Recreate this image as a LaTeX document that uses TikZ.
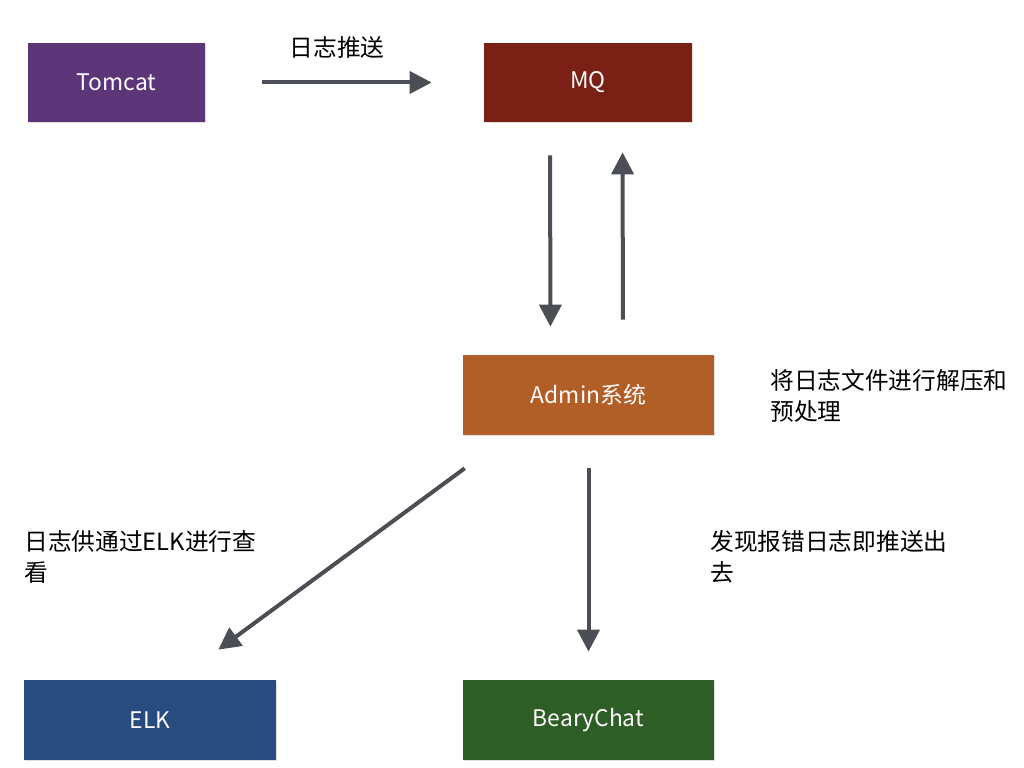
\documentclass[tikz,border=0pt]{standalone}
\usepackage{fontspec}
\setmainfont{Noto Sans CJK SC}
\usepackage{tikz}
\usetikzlibrary{arrows.meta,shadows}

\definecolor{arrowgray}{HTML}{4B4E54}
\definecolor{tomcatc}{HTML}{5B3577}
\definecolor{mqc}{HTML}{7A2014}
\definecolor{adminc}{HTML}{B25E27}
\definecolor{elkc}{HTML}{284C80}
\definecolor{bearyc}{HTML}{2C5E25}

\tikzset{
    box/.style={minimum height=1.58cm, inner sep=0pt, text=white!95!pink,
        font=\fontsize{13}{15}\selectfont,
        drop shadow={opacity=0.25, shadow xshift=0.6pt, shadow yshift=-0.6pt}},
    note/.style={anchor=north west, inner sep=0pt, align=left,
        font=\fontsize{13.5}{17.5}\selectfont},
    flow/.style={-{Triangle[length=0.44cm,width=0.44cm]}, arrowgray, line width=0.08cm},
}

\begin{document}
\begin{tikzpicture}
            \useasboundingbox (0,0) rectangle (20.48,-15.36);

            \node [box, fill=tomcatc, minimum width=3.54cm] (tomcat) at (2.33,-1.65) {Tomcat};
            \node [box, fill=mqc, minimum width=4.16cm] (mq) at (11.76,-1.65) {MQ};
            \node [box, fill=adminc, minimum width=5.02cm, minimum height=1.6cm] (admin) at (11.77,-7.9) {Admin系统};
            \node [box, fill=elkc, minimum width=5.04cm, minimum height=1.6cm] (elk) at (3.0,-14.4) {ELK};
            \node [box, fill=bearyc, minimum width=5.02cm, minimum height=1.6cm] (beary) at (11.77,-14.4) {BearyChat};

            \node [font=\fontsize{13.5}{15}\selectfont] (pushlabel) at (6.74,-0.94) {日志推送};
            \node [note] (adminnote) at (15.4,-7.38) {将日志文件进行解压和\\预处理};
            \node [note] (elknote) at (0.48,-10.6) {日志供通过ELK进行查\\看};
            \node [note] (bearynote) at (14.2,-10.6) {发现报错日志即推送出\\去};

            \draw [flow, shorten <=1.14cm, shorten >=1.04cm] (tomcat) -- (mq);
            \draw [flow, shorten <=0.66cm, shorten >=0.56cm]
                ([xshift=-0.76cm]mq.south) -- ([xshift=-0.76cm]admin.north);
            \draw [flow, shorten <=0.7cm, shorten >=0.6cm]
                ([xshift=0.69cm]admin.north) -- ([xshift=0.69cm]mq.south);
            \draw [flow] ([shift={(0.04,-0.66)}]admin.south west) -- ([shift={(-1.16,0.6)}]elk.north east);
            \draw [flow, shorten <=0.66cm, shorten >=0.56cm] (admin) -- (beary);
        \end{tikzpicture}
\end{document}
